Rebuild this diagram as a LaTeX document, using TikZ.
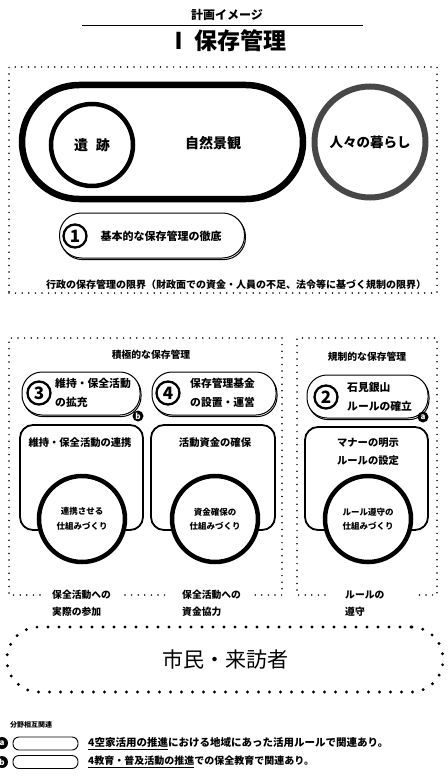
\documentclass[tikz,border=0pt]{standalone}
\usepackage{fontspec}
\setmainfont{Noto Sans CJK JP}
\usetikzlibrary{shadows}
\newcommand{\fs}[1]{\fontsize{#1}{#1}\selectfont}
\newcommand{\fsb}[2]{\fontsize{#1}{#2}\selectfont}
\tikzset{
  dotline/.style={line width=1.7pt, dash pattern=on 0pt off 6.6pt, line cap=round},
  bigdots/.style={line width=3.2pt, dash pattern=on 0pt off 11pt, line cap=round},
  pill/.style={draw, fill=white, line width=1pt, rectangle, rounded corners=20pt,
     copy shadow={shadow xshift=1pt, shadow yshift=-1.6pt}},
  lowbox/.style={draw, line width=1.8pt, rectangle, rounded corners=13pt},
  ring/.style={draw, circle, fill=white, line width=4.5pt, inner sep=0pt,
     minimum size=86pt, align=center, font=\bfseries\fsb{8.5}{14.5}},
  marker/.style={circle, fill=black, inner sep=0pt, minimum size=11pt,
     text=white, font=\bfseries\fs{8}},
  lbl/.style={inner sep=0pt, font=\bfseries\fs{9.8}},
  pilltext/.style={anchor=west, align=left, inner sep=0pt, font=\bfseries\fsb{10.8}{18.8}},
  circnum/.style={draw, circle, line width=2.3pt, minimum size=23pt, inner sep=0pt,
     font=\bfseries\fs{17}},
  every node/.style={inner sep=0pt}
}
\begin{document}
\begin{tikzpicture}[x=1pt,y=-1pt]
\useasboundingbox (0,0) rectangle (447,781);
\fill[white] (0,0) rectangle (447,781);

% title
\node[font=\bfseries\fs{12}] (kikaku) at (227,15) {計画イメージ};
\coordinate (tl1) at (82,25);
\coordinate (tl2) at (363,25);
\draw[line width=0.8pt] (tl1) -- (tl2);
\node[font=\bfseries\fs{23}] (title) at (227,41) {Ⅰ\hspace{4pt}保存管理};

% top dotted box
\node[draw, dotline, rectangle, minimum width=428pt, minimum height=226pt] (topbox) at (223,180) {};

\node[draw, rectangle, rounded corners=57pt, line width=6.5pt, minimum width=281pt, minimum height=114pt] (keikanbox) at (162.5,142) {};
\node[font=\bfseries\fs{14}] (keikan) at (213,143) {自然景観};
\node[draw, circle, line width=4.5pt, minimum size=82pt, font=\bfseries\fs{14}] (iseki) at (92,145) {遺\hspace{8pt}跡};
\node[draw=black!72, circle, line width=6pt, minimum size=111pt, font=\bfseries\fs{13.5}] (kurashi) at (370,142) {人々の暮らし};

\node[pill, rounded corners=22pt, minimum width=185pt, minimum height=45pt] (kihonbox) at (152,235.5) {};
\node[circnum] (n1) at (75,236) {1};
\node[font=\bfseries\fs{11}] (kihon) at (161,236) {基本的な保存管理の徹底};

\node[font=\bfseries\fs{10}] (gyosei) at (236,285) {行政の保存管理の限界（財政面での資金・人員の不足、法令等に基づく規制の限界）};

% middle left dotted box
\coordinate (lb1) at (40,595);
\coordinate (lb2) at (9,595);
\coordinate (lb3) at (9,338);
\coordinate (lb4) at (282,338);
\coordinate (lb5) at (282,595);
\coordinate (lb6) at (255,595);
\coordinate (lb7) at (125,595);
\coordinate (lb8) at (165,595);
\draw[dotline] (lb1) -- (lb2) -- (lb3) -- (lb4) -- (lb5) -- (lb6);
\draw[dotline] (lb7) -- (lb8);
% middle right dotted box
\coordinate (rb1) at (325,595);
\coordinate (rb2) at (297,595);
\coordinate (rb3) at (297,338);
\coordinate (rb4) at (437,338);
\coordinate (rb5) at (437,595);
\coordinate (rb6) at (413,595);
\draw[dotline] (rb1) -- (rb2) -- (rb3) -- (rb4) -- (rb5) -- (rb6);

\node[lbl] (sekkyoku) at (151,355) {積極的な保存管理};
\node[lbl] (kisei) at (367,357) {規制的な保存管理};

% lower boxes
\node[lowbox, minimum width=123pt, minimum height=105pt] (box1) at (81.5,477.5) {};
\node[lowbox, minimum width=124pt, minimum height=105pt] (box2) at (213,477.5) {};
\node[lowbox, minimum width=123pt, minimum height=103pt] (box3) at (366.5,478.5) {};

% pills
\node[pill, minimum width=118pt, minimum height=43pt] (p3) at (81,393.5) {};
\node[circnum] (n3) at (39,393) {3};
\node[pilltext] (t3) at (55,393) {維持・保全活動\\の拡充};
\node[marker] (mb) at (138,416) {b};

\node[pill, minimum width=124pt, minimum height=43pt] (p4) at (214,393.5) {};
\node[circnum] (n4) at (168,393) {4};
\node[pilltext] (t4) at (190,393) {保存管理基金\\の設置・運営};

\node[pill, minimum width=121pt, minimum height=43pt] (p2) at (367.5,396.5) {};
\node[circnum] (n2) at (326,397) {2};
\node[pilltext] (t2) at (347,397) {石見銀山\\ルールの確立};
\node[marker] (ma) at (423,417) {a};

% box texts
\node[font=\bfseries\fs{10.3}] (b1t) at (80,443) {維持・保全活動の連携};
\node[font=\bfseries\fs{10.3}] (b2t) at (215,443) {活動資金の確保};
\node[font=\bfseries\fsb{10.3}{18}, align=center] (b3t) at (368,452) {マナーの明示\\ルールの設定};

% rings
\node[ring] (c1) at (82,519) {連携させる\\仕組みづくり};
\node[ring] (c2) at (215,519) {資金確保の\\仕組みづくり};
\node[ring] (c3) at (368,519) {ルール遵守の\\仕組みづくり};

% bottom labels
\node[anchor=west, align=left, inner sep=0pt, font=\bfseries\fsb{9.8}{17}] (l1) at (52,603.5) {保全活動への\\実際の参加};
\node[anchor=west, align=left, inner sep=0pt, font=\bfseries\fsb{9.8}{17}] (l2) at (182,603.5) {保全活動への\\資金協力};
\node[anchor=west, align=left, inner sep=0pt, font=\bfseries\fsb{9.8}{17}] (l3) at (345,603.5) {ルールの\\遵守};

% citizens
\node[draw, bigdots, rectangle, rounded corners=32pt, minimum width=436pt, minimum height=65pt, font=\fs{21}] (shimin) at (225,659.5) {市民・来訪者};

% legend
\node[anchor=west, font=\bfseries\fs{7}] (bunya) at (10,725) {分野相互関連};
\node[marker, minimum size=12pt] (la) at (2,743) {a};
\node[marker, minimum size=12pt] (lbm) at (2,762) {b};
\node[draw, rectangle, rounded corners=6pt, line width=0.9pt, minimum width=65pt, minimum height=13pt] (lboxa) at (45.5,743.5) {};
\node[draw, rectangle, rounded corners=6pt, line width=0.9pt, minimum width=65pt, minimum height=13pt] (lboxb) at (45.5,762) {};
\node[anchor=west, font=\bfseries\fs{10.5}] (lta) at (88,743.5) {\underline{4空家活用の推進}における地域にあった活用ルールで関連あり。};
\node[anchor=west, font=\bfseries\fs{10}] (ltb) at (88,762) {\underline{4教育・普及活動の推進}での保全教育で関連あり。};
\end{tikzpicture}
\end{document}
